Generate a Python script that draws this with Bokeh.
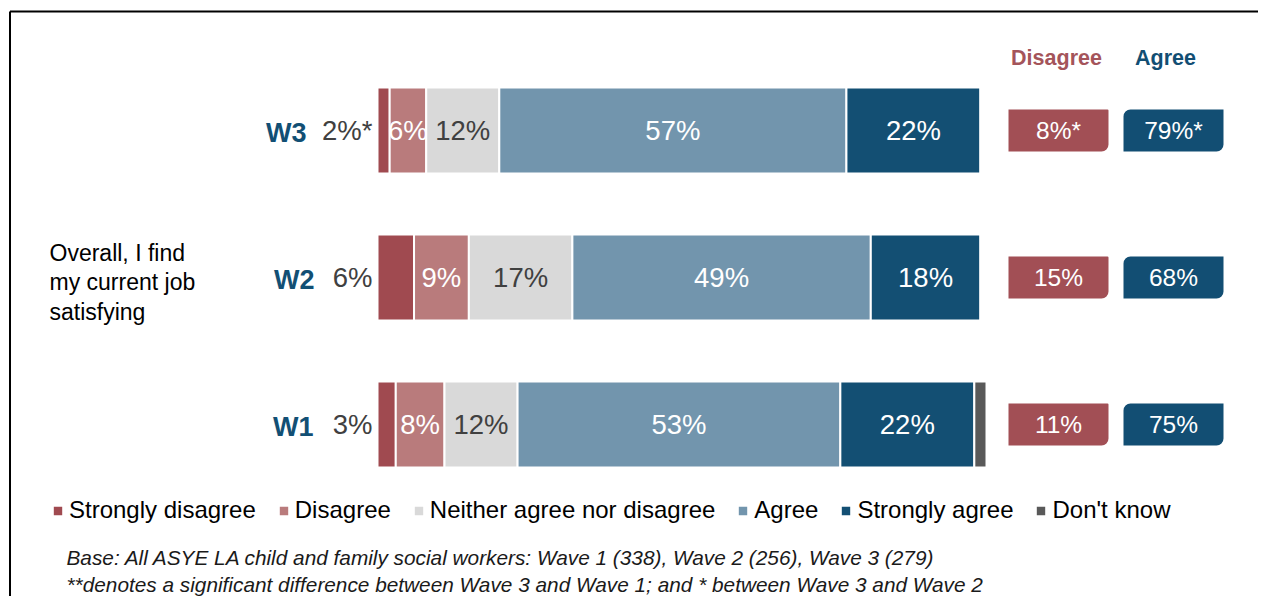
from bokeh.plotting import figure
from bokeh.models import Range1d, Legend, LegendItem, ColumnDataSource
from bokeh.core.properties import value
from bokeh.embed import file_html
from bokeh.resources import INLINE

# ---------------- data ----------------
waves = ["W3", "W2", "W1"]
categories = ["Strongly disagree", "Disagree", "Neither agree nor disagree",
              "Agree", "Strongly agree", "Don't know"]
strongly_disagree = [2, 6, 3]
disagree = [6, 9, 8]
neither = [12, 17, 12]
agree = [57, 49, 53]
strongly_agree = [22, 18, 22]
dont_know = [0, 0, 2]
sd_sig = ["*", "", ""]
net_disagree = [8, 15, 11]
net_agree = [79, 68, 75]
net_sig = ["*", "", ""]
question = "Overall, I find\nmy current job\nsatisfying"
net_headers = ["Disagree", "Agree"]
footnotes = ["Base: All ASYE LA child and family social workers: Wave 1 (338), Wave 2 (256), Wave 3 (279)",
             "**denotes a significant difference between Wave 3 and Wave 1; and * between Wave 3 and Wave 2"]

colors = ["#a04a50", "#b97b7c", "#d9d9d9", "#7295ad", "#134f73", "#595959"]
label_colors = [None, "white", "#404040", "white", "white", None]
FONT = value("Liberation Sans")

# ---------------- layout helpers (picture px -> data) ----------------
PX_PER_PCT = 6.09
PX_PER_ROW = 147.0
def X(px):
    return (px - 377) / PX_PER_PCT
def Y(py):
    return (424 - py) / PX_PER_ROW

W, H = 1258, 596
p = figure(width=W, height=H, output_backend="svg", toolbar_location=None,
           x_range=Range1d(X(0), X(W)), y_range=Range1d(Y(H), Y(0)),
           min_border=0, x_axis_location=None, y_axis_location=None,
           outline_line_color=None)
p.grid.visible = False
p.background_fill_color = "white"

n = len(waves)
ypos = [n - 1 - i for i in range(n)]
keys = ["sd", "d", "n", "a", "sa", "dk"]
series = [strongly_disagree, disagree, neither, agree, strongly_agree, dont_know]
data = {"y": ypos, "wave": waves}
for k, s in zip(keys, series):
    data[k] = s
src = ColumnDataSource(data)

bar_h = 86 / PX_PER_ROW
rs = p.hbar_stack(keys, y="y", height=bar_h, color=colors, source=src,
                  line_color="white", line_width=2)

# segment labels
lx, ly, lt, lc = [], [], [], []
for i in range(n):
    left = 0
    for j, s in enumerate(series):
        v = s[i]
        if label_colors[j] is not None and v > 0:
            lx.append(left + v / 2)
            ly.append(ypos[i])
            lt.append(f"{v}%")
            lc.append(label_colors[j])
        left += v
p.text(x=lx, y=ly, text=lt, text_color=lc, text_font=FONT, text_font_size="27.5px",
       text_align="center", text_baseline="middle")

# strongly disagree labels outside the bar
p.text(x=[X(372)] * n, y=ypos, text=[f"{v}%{s}" for v, s in zip(strongly_disagree, sd_sig)],
       text_color="#404040", text_font=FONT, text_font_size="27.5px",
       text_align="right", text_baseline="middle")

# wave labels
wave_right = [X(306), X(314), X(313)]
p.text(x=wave_right, y=ypos, text=waves, text_color="#124f74", text_font=FONT,
       text_font_size="27px", text_font_style="bold", text_align="right",
       text_baseline="middle", y_offset=2)

# question
p.text(x=[X(49)], y=[Y(282)], text=[question], text_color="black", text_font=FONT,
       text_font_size="23px", text_align="left", text_baseline="middle",
       text_line_height=1.12)

# net boxes
bw = 100 / PX_PER_PCT
bh = 42 / PX_PER_ROW
xd, xa = X(1058), X(1173)
rd = p.rect(x=[xd] * n, y=ypos, width=bw, height=bh, fill_color="#a24f55", line_color=None)
ra = p.rect(x=[xa] * n, y=ypos, width=bw, height=bh, fill_color="#124e73", line_color=None)
try:
    rd.glyph.border_radius = (0, 1, 7, 0)
    ra.glyph.border_radius = (7, 0, 7, 0)
except Exception:
    pass
p.text(x=[xd] * n, y=ypos, text=[f"{v}%{s}" for v, s in zip(net_disagree, net_sig)],
       text_color="white", text_font=FONT, text_font_size="24.5px",
       text_align="center", text_baseline="middle")
p.text(x=[xa] * n, y=ypos, text=[f"{v}%{s}" for v, s in zip(net_agree, net_sig)],
       text_color="white", text_font=FONT, text_font_size="24.5px",
       text_align="center", text_baseline="middle")
p.text(x=[X(1056), X(1165)], y=[Y(57)] * 2, text=net_headers,
       text_color=["#a4545a", "#124e73"], text_font=FONT, text_font_size="21.5px",
       text_font_style="bold", text_align="center", text_baseline="middle")

# footnotes
p.text(x=[X(66)] * 2, y=[Y(557), Y(583.5)], text=footnotes, text_color="#1a1a1a",
       text_font=FONT, text_font_size="20.8px", text_font_style="italic",
       text_align="left", text_baseline="middle")

# border lines (top and left)
p.line(x=[X(9.5), X(W + 20)], y=[Y(11), Y(11)], line_color="black", line_width=2)
p.line(x=[X(9.5), X(9.5)], y=[Y(11), Y(H + 20)], line_color="black", line_width=2)

# legend
legend = Legend(items=[LegendItem(label=c, renderers=[r]) for c, r in zip(categories, rs)],
                orientation="horizontal", location=(51, 72), glyph_width=13, glyph_height=13,
                label_standoff=5, spacing=21, padding=0, margin=0,
                border_line_color=None, background_fill_alpha=0,
                label_text_font="Liberation Sans", label_text_font_size="24px",
                label_text_color="black")
p.add_layout(legend, "center")

open("out.html", "w").write(file_html(p, INLINE))
